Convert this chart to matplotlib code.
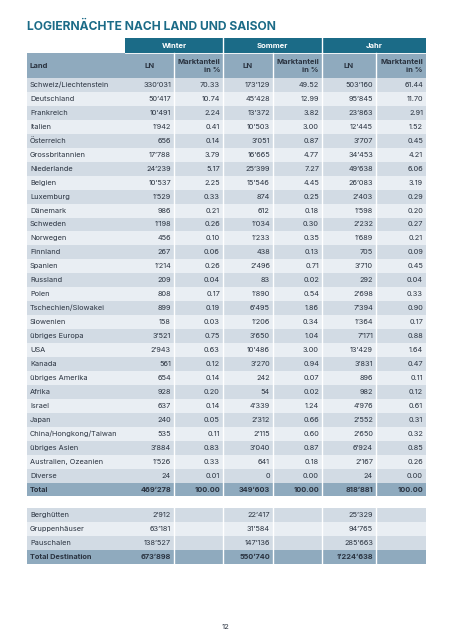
import matplotlib.pyplot as plt
from matplotlib.patches import Rectangle

plt.rcParams["font.family"] = ["Inter", "DejaVu Sans"]

countries = [
    "Schweiz/Liechtenstein", "Deutschland", "Frankreich", "Italien", "Österreich",
    "Grossbritannien", "Niederlande", "Belgien", "Luxemburg", "Dänemark",
    "Schweden", "Norwegen", "Finnland", "Spanien", "Russland", "Polen",
    "Tschechien/Slowakei", "Slowenien", "übriges Europa", "USA", "Kanada",
    "übriges Amerika", "Afrika", "Israel", "Japan", "China/Hongkong/Taiwan",
    "übriges Asien", "Australien, Ozeanien", "Diverse",
]
winter_ln = [330031, 50417, 10491, 1942, 656, 17788, 24239, 10537, 1529, 986,
             1198, 456, 267, 1214, 209, 808, 899, 158, 3521, 2943, 561, 654,
             928, 637, 240, 535, 3884, 1526, 24]
winter_pct = [70.33, 10.74, 2.24, 0.41, 0.14, 3.79, 5.17, 2.25, 0.33, 0.21,
              0.26, 0.10, 0.06, 0.26, 0.04, 0.17, 0.19, 0.03, 0.75, 0.63, 0.12,
              0.14, 0.20, 0.14, 0.05, 0.11, 0.83, 0.33, 0.01]
summer_ln = [173129, 45428, 13372, 10503, 3051, 16665, 25399, 15546, 874, 612,
             1034, 1233, 438, 2496, 83, 1890, 6495, 1206, 3650, 10486, 3270, 242,
             54, 4339, 2312, 2115, 3040, 641, 0]
summer_pct = [49.52, 12.99, 3.82, 3.00, 0.87, 4.77, 7.27, 4.45, 0.25, 0.18,
              0.30, 0.35, 0.13, 0.71, 0.02, 0.54, 1.86, 0.34, 1.04, 3.00, 0.94,
              0.07, 0.02, 1.24, 0.66, 0.60, 0.87, 0.18, 0.00]
year_ln = [503160, 95845, 23863, 12445, 3707, 34453, 49638, 26083, 2403, 1598,
           2232, 1689, 705, 3710, 292, 2698, 7394, 1364, 7171, 13429, 3831, 896,
           982, 4976, 2552, 2650, 6924, 2167, 24]
year_pct = [61.44, 11.70, 2.91, 1.52, 0.45, 4.21, 6.06, 3.19, 0.29, 0.20,
            0.27, 0.21, 0.09, 0.45, 0.04, 0.33, 0.90, 0.17, 0.88, 1.64, 0.47,
            0.11, 0.12, 0.61, 0.31, 0.32, 0.85, 0.26, 0.00]
total_ln = [469278, 349603, 818881]
total_pct = [100.00, 100.00, 100.00]

extra_labels = ["Berghütten", "Gruppenhäuser", "Pauschalen"]
extra_winter = [2912, 63181, 138527]
extra_summer = [22417, 31584, 147136]
extra_year = [25329, 94765, 285663]
dest_total = [673898, 550740, 1224638]

seasons = ["Winter", "Sommer", "Jahr"]
title = "LOGIERNÄCHTE NACH LAND UND SAISON"

# colours / layout (pixel units)
TEAL = "#1b6b87"
HEAD = "#8faabe"
DARK = "#d2dbe4"
LIGHT = "#e9eef3"
TXT = "#2a3340"
col_edges = [27, 125, 174, 223, 273, 322, 376, 426]
row_h = 13.95
fs = 5.3


def fmt_ln(v):
    return f"{v:,}".replace(",", "\u2019")


fig = plt.figure(figsize=(4.53, 6.4), dpi=100)
ax = fig.add_axes([0, 0, 1, 1])
ax.set_xlim(0, 453)
ax.set_ylim(640, 0)
ax.axis("off")

ax.text(27, 27, title, color=TEAL, fontsize=8.7, fontweight="bold", va="center", ha="left")

# header row 1
for k, s in enumerate(seasons):
    x0, x1 = col_edges[1 + 2 * k], col_edges[3 + 2 * k]
    ax.add_patch(Rectangle((x0, 38.3), x1 - x0, 14.5, fc=TEAL, ec="none"))
    ax.text((x0 + x1) / 2, 45.5, s, color="white", fontsize=fs + 0.2, fontweight="bold",
            ha="center", va="center")

# header row 2
ax.add_patch(Rectangle((27, 53.3), 399, 24.7, fc=HEAD, ec="none"))
ax.text(30, 66, "Land", color=TXT, fontsize=fs + 0.2, fontweight="bold", va="center")
for k in range(3):
    a, b, c = col_edges[1 + 2 * k], col_edges[2 + 2 * k], col_edges[3 + 2 * k]
    ax.text((a + b) / 2, 66, "LN", color=TXT, fontsize=fs + 0.2, fontweight="bold",
            ha="center", va="center")
    ax.text(c - 3, 66, "Marktanteil\nin %", color=TXT, fontsize=fs + 0.2, fontweight="bold",
            ha="right", va="center", linespacing=1.3, multialignment="right")


def draw_row(y, label, values, color, bold=False):
    ax.add_patch(Rectangle((27, y), 399, row_h, fc=color, ec="none"))
    w = "bold" if bold else "normal"
    ax.text(30, y + row_h / 2, label, color=TXT, fontsize=fs, fontweight=w, va="center")
    for j, v in enumerate(values):
        if v is None:
            continue
        ax.text(col_edges[j + 2] - 3, y + row_h / 2, v, color=TXT, fontsize=fs,
                fontweight=w, ha="right", va="center")


y0 = 78.0
for i, name in enumerate(countries):
    vals = [fmt_ln(winter_ln[i]), f"{winter_pct[i]:.2f}",
            fmt_ln(summer_ln[i]), f"{summer_pct[i]:.2f}",
            fmt_ln(year_ln[i]), f"{year_pct[i]:.2f}"]
    draw_row(y0 + i * row_h, name, vals, DARK if i % 2 == 0 else LIGHT)
tot_vals = []
for ln, p in zip(total_ln, total_pct):
    tot_vals += [fmt_ln(ln), f"{p:.2f}"]
y_tot = y0 + len(countries) * row_h
draw_row(y_tot, "Total", tot_vals, HEAD, bold=True)
y_end1 = y_tot + row_h

# second block
y1 = 508.0
for i, name in enumerate(extra_labels):
    vals = [fmt_ln(extra_winter[i]), None, fmt_ln(extra_summer[i]), None,
            fmt_ln(extra_year[i]), None]
    draw_row(y1 + i * row_h, name, vals, DARK if i % 2 == 0 else LIGHT)
vals = [fmt_ln(dest_total[0]), None, fmt_ln(dest_total[1]), None, fmt_ln(dest_total[2]), None]
y_dt = y1 + len(extra_labels) * row_h
draw_row(y_dt, "Total Destination", vals, HEAD, bold=True)
y_end2 = y_dt + row_h

# white column separators
for x in [223, 322]:
    ax.plot([x, x], [38.3, 53.3], color="white", lw=1.0)
for x in col_edges[2:-1]:
    ax.plot([x, x], [53.3, y_end1], color="white", lw=1.0)
    ax.plot([x, x], [y1, y_end2], color="white", lw=1.0)
ax.plot([125, 426], [53.3, 53.3], color="white", lw=0.6)

ax.text(226, 627, "12", color=TXT, fontsize=5.5, ha="center", va="center")

fig.savefig("out.png", dpi=100)
